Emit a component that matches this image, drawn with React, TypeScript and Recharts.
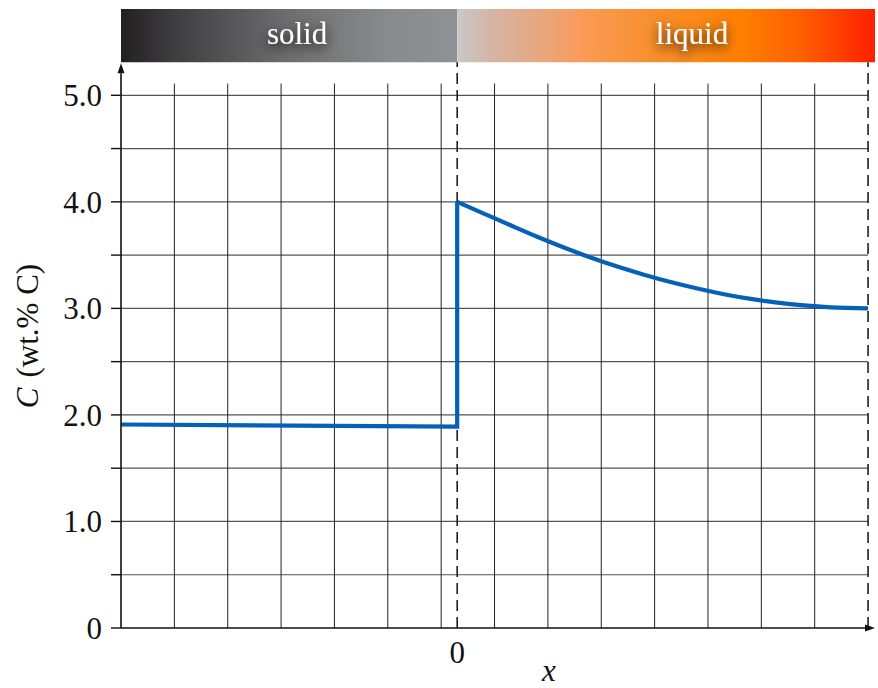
import React from 'react';
import { LineChart, Line, XAxis, YAxis, ReferenceLine, ReferenceArea, ReferenceDot } from 'recharts';

// concentration profile, solid side (ends with the jump at the interface)
const solidX = [-6.3, 0, 0];
const solidC = [1.91, 1.89, 4.0];

// concentration profile, liquid side (boundary layer)
const liquidX = [0, 0.5, 1, 1.5, 2, 2.5, 3, 3.5, 4, 4.5, 5, 5.5, 6, 6.5, 7, 7.7];
const liquidC = [4.0, 3.89, 3.78, 3.672, 3.571, 3.477, 3.392, 3.316, 3.247, 3.186, 3.133, 3.089, 3.054, 3.028, 3.01, 3.0];

const yTicks = [0, 0.5, 1, 1.5, 2, 2.5, 3, 3.5, 4, 4.5, 5];
const xTicks = [0];
const gridX = [-5.3, -4.3, -3.3, -2.3, -1.3, -0.3, 0.7, 1.7, 2.7, 3.7, 4.7, 5.7, 6.7];
const dashedX = [0, 7.7];

const phaseNames = ['solid', 'liquid'];
const phaseFrom = [-6.3, 0];
const phaseTo = [0, 7.83];
const phaseLabelX = [-3.0, 4.4];
const phaseFill = ['url(#solidFill)', 'url(#liquidFill)'];

const X_MIN = -6.3;
const X_END = 7.7;
const X_MAX = 7.83;
const Y_MAX = 5.81;
const GRID_TOP = 5.11;
const BAR_BOTTOM = 5.31;
const BAR_MID = 5.56;
const AXIS_TOP = 5.3;

const data = [
  ...solidX.map((x, i) => ({ x, s: solidC[i] })),
  ...liquidX.map((x, i) => ({ x, l: liquidC[i] })),
];

const FONT = '"Liberation Serif", "Times New Roman", serif';
const INK = '#111';
const BLUE = '#0561b8';

const ArrowLine = (props: any) => {
  const { x1, y1, x2, y2 } = props;
  const ang = Math.atan2(y2 - y1, x2 - x1);
  const len = 10;
  const half = 3.5;
  const bx = x2 - len * Math.cos(ang);
  const by = y2 - len * Math.sin(ang);
  const px = -Math.sin(ang) * half;
  const py = Math.cos(ang) * half;
  return (
    <g>
      <line x1={x1} y1={y1} x2={bx} y2={by} stroke={INK} strokeWidth={1.6} />
      <polygon points={`${x2},${y2} ${bx + px},${by + py} ${bx - px},${by - py}`} fill={INK} />
    </g>
  );
};

const phaseText = (text: string) => (props: any) => (
  <text
    x={props.cx}
    y={props.cy + 8}
    textAnchor="middle"
    fill="#fff"
    fontSize={31}
    fontFamily={FONT}
    filter="url(#textGlow)"
  >
    {text}
  </text>
);

const XTick = (props: any) => (
  <text x={props.x} y={663} textAnchor="middle" fontSize={31} fontFamily={FONT} fill={INK}>
    {String(props.payload.value)}
  </text>
);

const yTickFormat = (v: number) => (v === 0 ? '0' : Number.isInteger(v) ? v.toFixed(1) : '');

const XLabel = (props: any) => {
  const vb = props.viewBox;
  return (
    <text x={vb.x + vb.width / 2 + 51} y={681} textAnchor="middle" fontSize={31} fontStyle="italic" fontFamily={FONT} fill={INK}>
      x
    </text>
  );
};

const YLabel = () => (
  <text x={0} y={0} transform="translate(38, 336) rotate(-90)" textAnchor="middle" fontSize={31} fontFamily={FONT} fill={INK}>
    <tspan fontStyle="italic">C</tspan>
    <tspan dx={10}>(wt.% C)</tspan>
  </text>
);

export default function App() {
  return (
    <div style={{ position: 'absolute', left: 0, top: 0, background: '#fff' }}>
      <LineChart width={878} height={688} data={data} margin={{ top: 9, right: 3, bottom: 0, left: 61 }}>
        <defs>
          <linearGradient id="solidFill" x1="0" y1="0" x2="1" y2="0">
            <stop offset="0" stopColor="#231f20" />
            <stop offset="0.15" stopColor="#3d3c3e" />
            <stop offset="0.5" stopColor="#6e6e70" />
            <stop offset="0.8" stopColor="#8a8b8e" />
            <stop offset="1" stopColor="#909195" />
          </linearGradient>
          <linearGradient id="liquidFill" x1="0" y1="0" x2="1" y2="0">
            <stop offset="0" stopColor="#c8c8c8" />
            <stop offset="0.09" stopColor="#d6b3a3" />
            <stop offset="0.22" stopColor="#eaa577" />
            <stop offset="0.3" stopColor="#fb9a58" />
            <stop offset="0.46" stopColor="#f8902f" />
            <stop offset="0.68" stopColor="#ff8000" />
            <stop offset="0.82" stopColor="#ff6000" />
            <stop offset="1" stopColor="#ff2000" />
          </linearGradient>
          <filter id="textGlow" x="-50%" y="-80%" width="200%" height="260%">
            <feDropShadow dx="0" dy="4" stdDeviation="6" floodColor="#000" floodOpacity="0.9" />
          </filter>
        </defs>

        <XAxis
          type="number"
          dataKey="x"
          domain={[X_MIN, X_MAX]}
          ticks={xTicks}
          allowDataOverflow
          axisLine={false}
          tickLine={false}
          height={60}
          tick={<XTick />}
          label={<XLabel />}
        />
        <YAxis
          type="number"
          domain={[0, Y_MAX]}
          ticks={yTicks}
          allowDataOverflow
          interval={0}
          width={60}
          axisLine={false}
          tickSize={10}
          tickMargin={9}
          tickLine={{ stroke: INK, strokeWidth: 1.4 }}
          tickFormatter={yTickFormat}
          tick={{ fontSize: 31, fontFamily: FONT, fill: INK }}
          label={<YLabel />}
        />

        {phaseNames.map((name, i) => (
          <ReferenceArea
            key={name}
            x1={phaseFrom[i]}
            x2={phaseTo[i]}
            y1={BAR_BOTTOM}
            y2={Y_MAX}
            fill={phaseFill[i]}
            fillOpacity={1}
            stroke="none"
            ifOverflow="visible"
          />
        ))}

        {yTicks.filter((v) => v > 0).map((v) => (
          <ReferenceLine
            key={'h' + v}
            segment={[{ x: X_MIN, y: v }, { x: X_END, y: v }]}
            stroke="#555"
            strokeWidth={1.2}
            ifOverflow="visible"
          />
        ))}
        {gridX.map((v) => (
          <ReferenceLine
            key={'v' + v}
            segment={[{ x: v, y: 0 }, { x: v, y: GRID_TOP }]}
            stroke="#222"
            strokeWidth={1}
            ifOverflow="visible"
          />
        ))}
        {dashedX.map((v) => (
          <ReferenceLine
            key={'d' + v}
            segment={[{ x: v, y: 0 }, { x: v, y: BAR_BOTTOM }]}
            stroke={INK}
            strokeWidth={1.5}
            strokeDasharray="11 6"
            ifOverflow="visible"
          />
        ))}

        <Line
          type="linear"
          dataKey="s"
          stroke={BLUE}
          strokeWidth={4.2}
          strokeLinejoin="miter"
          dot={false}
          activeDot={false}
          isAnimationActive={false}
        />
        <Line
          type="monotone"
          dataKey="l"
          stroke={BLUE}
          strokeWidth={4.2}
          dot={false}
          activeDot={false}
          isAnimationActive={false}
        />

        <ReferenceLine segment={[{ x: X_MIN, y: 0 }, { x: X_MAX, y: 0 }]} shape={ArrowLine} ifOverflow="visible" />
        <ReferenceLine segment={[{ x: X_MIN, y: 0 }, { x: X_MIN, y: AXIS_TOP }]} shape={ArrowLine} ifOverflow="visible" />

        {phaseNames.map((name, i) => (
          <ReferenceDot
            key={'l' + name}
            x={phaseLabelX[i]}
            y={BAR_MID}
            r={1}
            ifOverflow="visible"
            shape={phaseText(name)}
          />
        ))}
      </LineChart>
    </div>
  );
}
